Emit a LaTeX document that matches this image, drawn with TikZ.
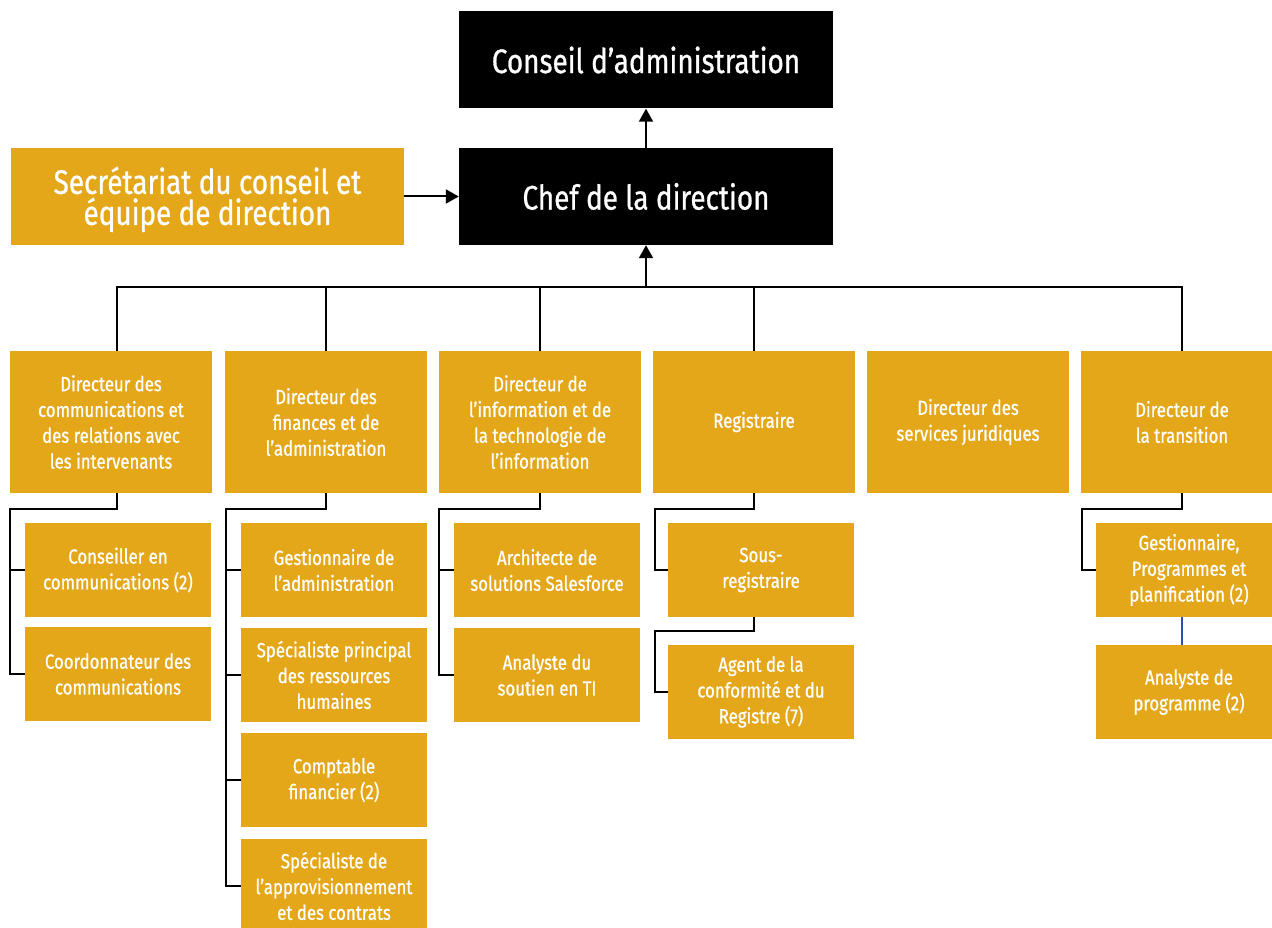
\documentclass[tikz,border=0pt]{standalone}
\usepackage{fontspec}
\setmainfont{Fira Sans}[FakeStretch=0.82, FakeBold=0.8]
\usepackage{xcolor}
\usepackage{tikz}
\usetikzlibrary{arrows.meta, positioning, calc}
\definecolor{goldfill}{HTML}{E4A71A}
\definecolor{linkblue}{HTML}{2F4FA8}
\tikzset{
  blk/.style={rectangle, inner sep=2pt, align=center, text=white},
  top/.style={blk, fill=black, minimum width=374pt, minimum height=97pt, font=\fontsize{34}{31}\selectfont},
  sec/.style={blk, fill=goldfill, minimum width=393pt, minimum height=97pt, font=\fontsize{34}{31}\selectfont},
  dir/.style={blk, fill=goldfill, minimum width=202pt, minimum height=142pt, font=\fontsize{20.5}{25.8}\selectfont},
  sub/.style={blk, fill=goldfill, minimum width=186pt, minimum height=94pt, font=\fontsize{20.5}{25.8}\selectfont},
  conn/.style={line width=2pt, draw=black},
  arr/.style={conn, -{Triangle[width=14pt, length=13pt]}},
}
\begin{document}
\begin{tikzpicture}[x=1pt, y=-1pt]
  \useasboundingbox (0,0) rectangle (1272,928);
  \node[top] (conseil) at (646,60)    {Conseil d’administration};
  \node[top] (chef)    at (646,196.5) {Chef de la direction};
  \node[sec] (secr) at (207.5,196.5) {\rule{0pt}{33pt}Secrétariat du conseil et\\équipe de direction};
  % directeurs
  \node[dir] (d1) at (111,422)  {Directeur des\\communications et\\des relations avec\\les intervenants};
  \node[dir] (d2) at (326,422)  {Directeur des\\finances et de\\l’administration};
  \node[dir] (d3) at (540,422)  {Directeur de\\l’information et de\\la technologie de\\l’information};
  \node[dir] (d4) at (754,422)  {Registraire};
  \node[dir] (d5) at (968,422)  {Directeur des\\services juridiques};
  \node[dir] (d6) at (1182,422) {Directeur de\\la transition};
  % postes
  \node[sub] (s11) at (118,570) {Conseiller en\\communications (2)};
  \node[sub] (s12) at (118,674) {Coordonnateur des\\communications};
  \node[sub] (s21) at (334,570) {Gestionnaire de\\l’administration};
  \node[sub] (s22) at (334,675) {Spécialiste principal\\des ressources\\humaines};
  \node[sub] (s23) at (334,780) {Comptable\\financier (2)};
  \node[sub] (s24) at (334,886) {Spécialiste de\\l’approvisionnement\\et des contrats};
  \node[sub] (s31) at (547,570) {Architecte de\\solutions Salesforce};
  \node[sub] (s32) at (547,675) {Analyste du\\soutien en TI};
  \node[sub] (s41) at (761,570) {Sous-\\registraire};
  \node[sub] (s42) at (761,692) {Agent de la\\conformité et du\\Registre (7)};
  \node[sub] (s61) at (1189,570) {Gestionnaire,\\Programmes et\\planification (2)};
  \node[sub] (s62) at (1189,692) {Analyste de\\programme (2)};
  \coordinate (bus) at (646,287);
  \draw[arr] (secr) -- (chef);
  \draw[arr] (chef) -- (conseil);
  \draw[arr] (bus) -- (chef.south);
  \draw[conn] ([xshift=6pt]d1.north) |- (bus);
  \draw[conn] (d2.north) |- (bus);
  \draw[conn] (d3.north) |- (bus);
  \draw[conn] (d4.north) |- (bus);
  \draw[conn] (d6.north) |- (bus);
  % sous-arbres
  \draw[conn] ([xshift=6pt]d1.south) -- ++(0,16) -| ([xshift=-15pt]s12.west) -- (s12.west);
  \draw[conn] ([xshift=-15pt]s11.west) -- (s11.west);
  \draw[conn] (d2.south) -- ++(0,16) -| ([xshift=-15pt]s24.west) -- (s24.west);
  \draw[conn] ([xshift=-15pt]s21.west) -- (s21.west);
  \draw[conn] ([xshift=-15pt]s22.west) -- (s22.west);
  \draw[conn] ([xshift=-15pt]s23.west) -- (s23.west);
  \draw[conn] (d3.south) -- ++(0,16) -| ([xshift=-15pt]s32.west) -- (s32.west);
  \draw[conn] ([xshift=-15pt]s31.west) -- (s31.west);
  \draw[conn] (d4.south) -- ++(0,16) -| ([xshift=-13pt]s41.west) -- (s41.west);
  \draw[conn] ([xshift=-7pt]s41.south) -- ++(0,14) -| ([xshift=-13pt]s42.west) -- (s42.west);
  \draw[conn] (d6.south) -- ++(0,16) -| ([xshift=-14pt]s61.west) -- (s61.west);
  \draw[line width=1.5pt, draw=linkblue] ([xshift=-7pt]s61.south) -- ([xshift=-7pt]s62.north);
\end{tikzpicture}
\end{document}
